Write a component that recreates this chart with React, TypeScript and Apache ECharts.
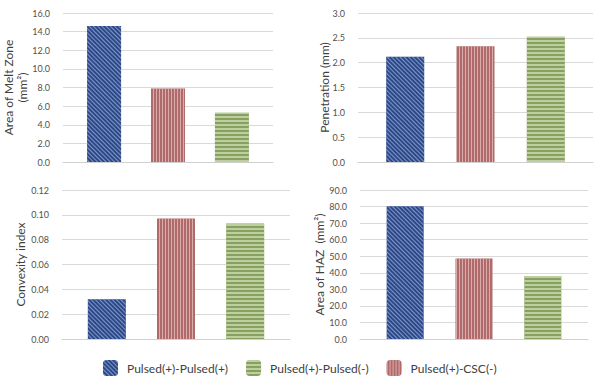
import React, { useEffect, useRef } from "react";
import * as echarts from "echarts";

const seriesNames = ["Pulsed(+)-Pulsed(+)", "Pulsed(+)-CSC(-)", "Pulsed(+)-Pulsed(-)"];
const legendOrder = ["Pulsed(+)-Pulsed(+)", "Pulsed(+)-Pulsed(-)", "Pulsed(+)-CSC(-)"];

const meltZone = [14.6, 7.9, 5.3];
const penetration = [2.12, 2.33, 2.52];
const convexity = [0.032, 0.097, 0.093];
const hazArea = [80.2, 48.6, 38.1];

const panelTitles = ["Area of Melt Zone\n(mm²)", "Penetration (mm)", "Convexity index", "Area of HAZ  (mm²)"];
const panelMax = [16, 3, 0.12, 90];
const panelInterval = [2, 0.5, 0.02, 10];
const panelDecimals = [1, 1, 2, 1];

const FONT = "Lato";

const styles = [
  {
    color: "#2d4887",
    decal: {
      symbol: "rect",
      symbolSize: 1,
      color: "rgba(135,160,210,0.9)",
      dashArrayX: [1, 0],
      dashArrayY: [1, 2],
      rotation: Math.PI / 4,
    },
  },
  {
    color: "#b06a6a",
    decal: {
      symbol: "rect",
      symbolSize: 1,
      color: "rgba(225,185,185,0.85)",
      dashArrayX: [1, 2],
      dashArrayY: [1, 0],
      rotation: 0,
    },
  },
  {
    color: "#86a060",
    decal: {
      symbol: "rect",
      symbolSize: 1,
      color: "rgba(200,215,170,0.85)",
      dashArrayX: [1, 0],
      dashArrayY: [2, 2],
      rotation: 0,
    },
  },
];

export default function App() {
  const ref = useRef<HTMLDivElement>(null);
  useEffect(() => {
    if (!ref.current) return;
    const chart = echarts.init(ref.current, null, { renderer: "svg" });
    const data = [meltZone, penetration, convexity, hazArea];
    const grids = [
      { left: 62, top: 13, width: 211, height: 149, barWidth: 34, barGap: "88%", nameGap: 34 },
      { left: 358, top: 13, width: 235, height: 149, barWidth: 38, barGap: "85%", nameGap: 27 },
      { left: 62, top: 190, width: 228, height: 149, barWidth: 38, barGap: "82%", nameGap: 35 },
      { left: 360, top: 190, width: 228, height: 149, barWidth: 37, barGap: "86%", nameGap: 34 },
    ];
    const series: any[] = [];
    data.forEach((vals, gi) => {
      vals.forEach((v, si) => {
        series.push({
          type: "bar",
          name: seriesNames[si],
          xAxisIndex: gi,
          yAxisIndex: gi,
          data: [v],
          barWidth: grids[gi].barWidth,
          barGap: grids[gi].barGap,
          itemStyle: styles[si],
        });
      });
    });
    chart.setOption({
      animation: false,
      backgroundColor: "#ffffff",
      textStyle: { fontFamily: FONT },
      grid: grids.map((g) => ({ left: g.left, top: g.top, width: g.width, height: g.height })),
      xAxis: grids.map((_, i) => ({
        type: "category",
        gridIndex: i,
        data: [""],
        axisTick: { show: false },
        axisLabel: { show: false },
        axisLine: { lineStyle: { color: "#d0d0d0", width: 1 } },
      })),
      yAxis: grids.map((g, i) => ({
        type: "value",
        gridIndex: i,
        min: 0,
        max: panelMax[i],
        interval: panelInterval[i],
        name: panelTitles[i],
        nameLocation: "middle",
        nameRotate: 90,
        nameGap: g.nameGap,
        nameMoveOverlap: false,
        nameTextStyle: { color: "#404040", fontSize: 12, fontFamily: FONT, lineHeight: 14 },
        axisLine: { show: false },
        axisTick: { show: false },
        axisLabel: {
          color: "#505050",
          fontSize: 9,
          fontFamily: FONT,
          margin: 13,
          formatter: (v: number) => v.toFixed(panelDecimals[i]),
        },
        splitLine: { lineStyle: { color: "#d9d9d9", width: 1 } },
      })),
      legend: {
        data: legendOrder,
        left: 98,
        top: 355,
        itemWidth: 15,
        itemHeight: 16,
        itemGap: 18,
        textStyle: { color: "#404040", fontSize: 12, fontFamily: FONT, padding: [0, 0, 0, 4] },
      },
      series,
    });
    return () => chart.dispose();
  }, []);
  return <div ref={ref} style={{ width: 595, height: 377, position: "absolute", left: 0, top: 0 }} />;
}
